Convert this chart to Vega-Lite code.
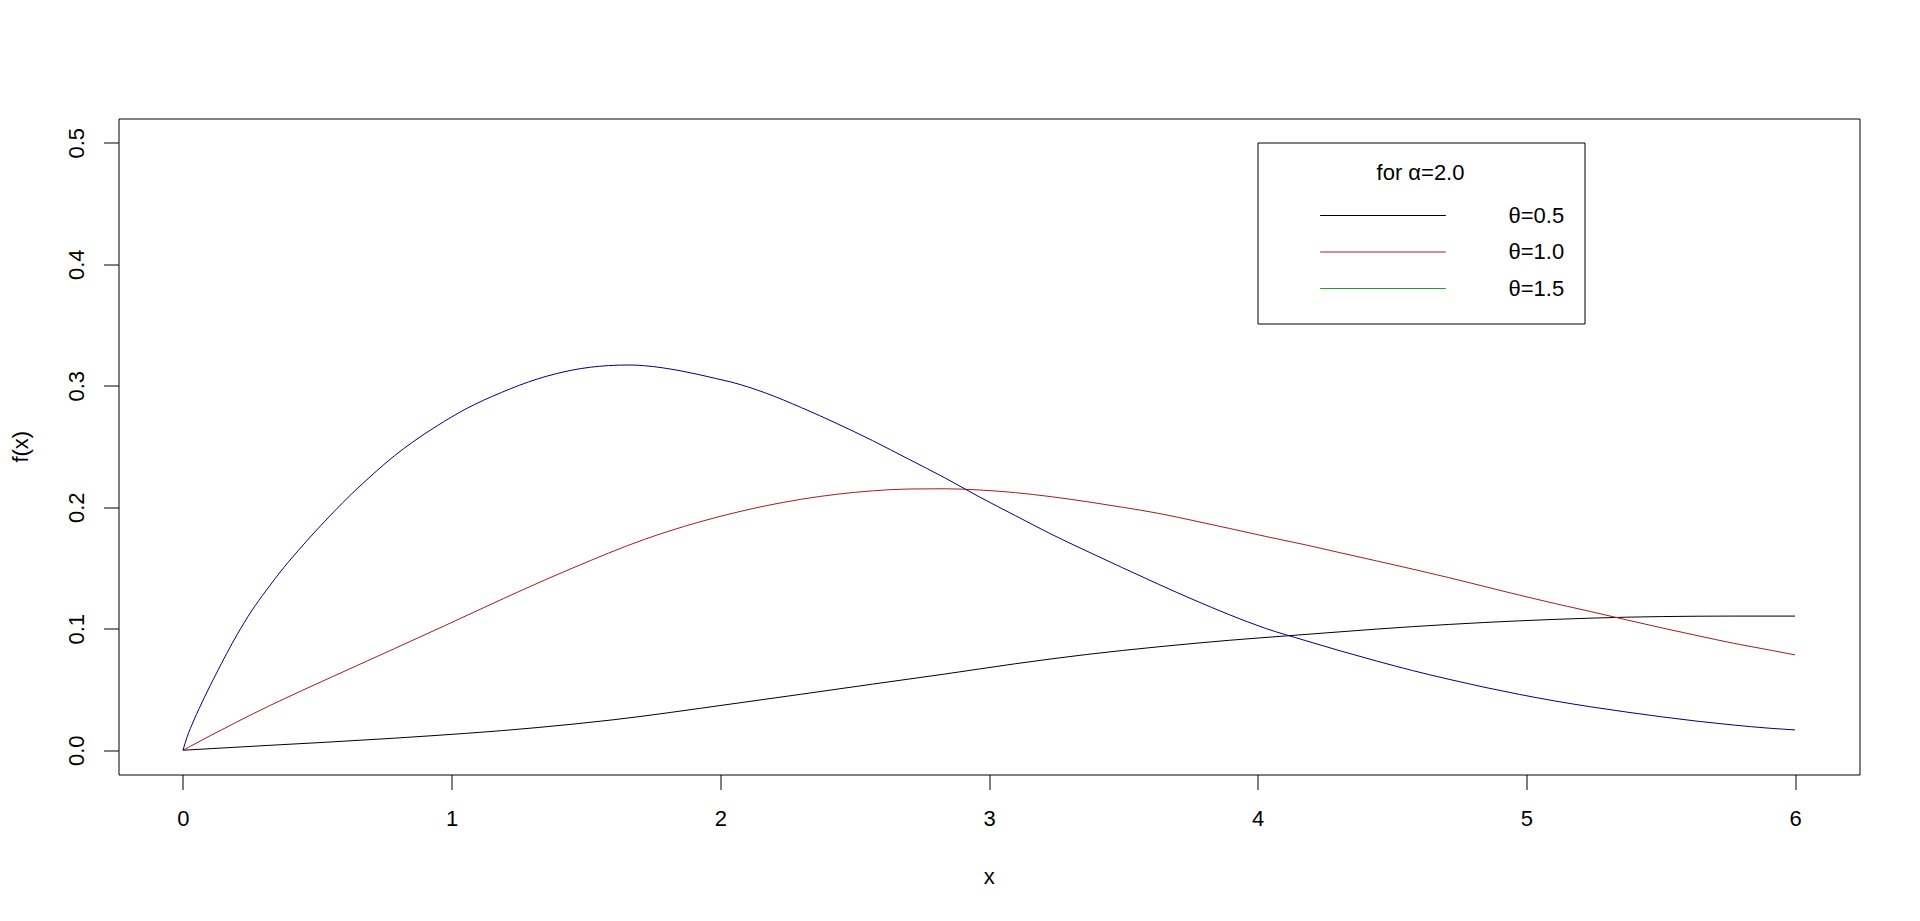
{
  "$schema": "https://vega.github.io/schema/vega-lite/v6.json",
  "width": 1741,
  "height": 656,
  "autosize": {"type": "none"},
  "padding": {"left": 118.5, "top": 118.5, "right": 60, "bottom": 146},
  "background": "white",
  "config": {
    "font": "Liberation Sans",
    "view": {"stroke": "black", "strokeWidth": 1},
    "axis": {
      "grid": false,
      "domain": false,
      "tickColor": "black",
      "tickWidth": 1,
      "tickSize": 15,
      "labelColor": "black",
      "titleColor": "black",
      "labelFont": "Liberation Sans",
      "titleFont": "Liberation Sans",
      "labelFontSize": 22,
      "titleFontSize": 22,
      "titleFontWeight": "normal",
      "labelFlush": false,
      "labelOverlap": false,
      "labelBound": false
    }
  },
  "data": {
    "values": [
      {"series": "θ=0.5", "x": 0, "y": 0},
      {"series": "θ=0.5", "x": 0.281, "y": 0.0035},
      {"series": "θ=0.5", "x": 0.787, "y": 0.0099},
      {"series": "θ=0.5", "x": 1.318, "y": 0.0186},
      {"series": "θ=0.5", "x": 1.6, "y": 0.025},
      {"series": "θ=0.5", "x": 2.036, "y": 0.0379},
      {"series": "θ=0.5", "x": 2.302, "y": 0.0461},
      {"series": "θ=0.5", "x": 2.567, "y": 0.0544},
      {"series": "θ=0.5", "x": 2.833, "y": 0.0626},
      {"series": "θ=0.5", "x": 3.099, "y": 0.0712},
      {"series": "θ=0.5", "x": 3.364, "y": 0.0788},
      {"series": "θ=0.5", "x": 3.63, "y": 0.0851},
      {"series": "θ=0.5", "x": 3.896, "y": 0.0905},
      {"series": "θ=0.5", "x": 4.119, "y": 0.0943},
      {"series": "θ=0.5", "x": 4.31, "y": 0.0975},
      {"series": "θ=0.5", "x": 4.443, "y": 0.0997},
      {"series": "θ=0.5", "x": 4.576, "y": 0.1017},
      {"series": "θ=0.5", "x": 4.709, "y": 0.1035},
      {"series": "θ=0.5", "x": 4.842, "y": 0.1051},
      {"series": "θ=0.5", "x": 4.975, "y": 0.1065},
      {"series": "θ=0.5", "x": 5.107, "y": 0.1077},
      {"series": "θ=0.5", "x": 5.24, "y": 0.1087},
      {"series": "θ=0.5", "x": 5.373, "y": 0.1095},
      {"series": "θ=0.5", "x": 5.506, "y": 0.11},
      {"series": "θ=0.5", "x": 5.639, "y": 0.1103},
      {"series": "θ=0.5", "x": 5.772, "y": 0.1104},
      {"series": "θ=0.5", "x": 6.0, "y": 0.1104},

      {"series": "θ=1.0", "x": 0, "y": 0},
      {"series": "θ=1.0", "x": 0.2, "y": 0.0232},
      {"series": "θ=1.0", "x": 0.322, "y": 0.0366},
      {"series": "θ=1.0", "x": 0.561, "y": 0.0610},
      {"series": "θ=1.0", "x": 0.787, "y": 0.0836},
      {"series": "θ=1.0", "x": 0.973, "y": 0.1024},
      {"series": "θ=1.0", "x": 1.119, "y": 0.1173},
      {"series": "θ=1.0", "x": 1.265, "y": 0.1321},
      {"series": "θ=1.0", "x": 1.451, "y": 0.1500},
      {"series": "θ=1.0", "x": 1.717, "y": 0.1735},
      {"series": "θ=1.0", "x": 1.916, "y": 0.1875},
      {"series": "θ=1.0", "x": 2.073, "y": 0.1965},
      {"series": "θ=1.0", "x": 2.169, "y": 0.2012},
      {"series": "θ=1.0", "x": 2.302, "y": 0.2066},
      {"series": "θ=1.0", "x": 2.434, "y": 0.2107},
      {"series": "θ=1.0", "x": 2.567, "y": 0.2135},
      {"series": "θ=1.0", "x": 2.7, "y": 0.215},
      {"series": "θ=1.0", "x": 2.833, "y": 0.2152},
      {"series": "θ=1.0", "x": 2.966, "y": 0.2142},
      {"series": "θ=1.0", "x": 3.099, "y": 0.212},
      {"series": "θ=1.0", "x": 3.231, "y": 0.2087},
      {"series": "θ=1.0", "x": 3.364, "y": 0.2046},
      {"series": "θ=1.0", "x": 3.497, "y": 0.2},
      {"series": "θ=1.0", "x": 3.63, "y": 0.195},
      {"series": "θ=1.0", "x": 3.763, "y": 0.1889},
      {"series": "θ=1.0", "x": 3.896, "y": 0.1825},
      {"series": "θ=1.0", "x": 4.029, "y": 0.176},
      {"series": "θ=1.0", "x": 4.177, "y": 0.1691},
      {"series": "θ=1.0", "x": 4.31, "y": 0.1624},
      {"series": "θ=1.0", "x": 4.443, "y": 0.1558},
      {"series": "θ=1.0", "x": 4.576, "y": 0.1491},
      {"series": "θ=1.0", "x": 4.709, "y": 0.1422},
      {"series": "θ=1.0", "x": 4.842, "y": 0.1349},
      {"series": "θ=1.0", "x": 4.975, "y": 0.1276},
      {"series": "θ=1.0", "x": 5.107, "y": 0.1207},
      {"series": "θ=1.0", "x": 5.24, "y": 0.1141},
      {"series": "θ=1.0", "x": 5.373, "y": 0.1073},
      {"series": "θ=1.0", "x": 5.506, "y": 0.1006},
      {"series": "θ=1.0", "x": 5.639, "y": 0.0942},
      {"series": "θ=1.0", "x": 5.772, "y": 0.088},
      {"series": "θ=1.0", "x": 5.904, "y": 0.0825},
      {"series": "θ=1.0", "x": 6.0, "y": 0.0785},

      {"series": "θ=1.5", "x": 0, "y": 0},
      {"series": "θ=1.5", "x": 0.015, "y": 0.0107},
      {"series": "θ=1.5", "x": 0.0395, "y": 0.0241},
      {"series": "θ=1.5", "x": 0.08, "y": 0.0436},
      {"series": "θ=1.5", "x": 0.1228, "y": 0.0626},
      {"series": "θ=1.5", "x": 0.2024, "y": 0.0955},
      {"series": "θ=1.5", "x": 0.2556, "y": 0.1147},
      {"series": "θ=1.5", "x": 0.3088, "y": 0.1312},
      {"series": "θ=1.5", "x": 0.3753, "y": 0.1504},
      {"series": "θ=1.5", "x": 0.4285, "y": 0.1642},
      {"series": "θ=1.5", "x": 0.4947, "y": 0.1806},
      {"series": "θ=1.5", "x": 0.5613, "y": 0.1962},
      {"series": "θ=1.5", "x": 0.6275, "y": 0.2109},
      {"series": "θ=1.5", "x": 0.7075, "y": 0.2273},
      {"series": "θ=1.5", "x": 0.7871, "y": 0.2424},
      {"series": "θ=1.5", "x": 0.8534, "y": 0.2534},
      {"series": "θ=1.5", "x": 0.9464, "y": 0.2671},
      {"series": "θ=1.5", "x": 1.0527, "y": 0.2809},
      {"series": "θ=1.5", "x": 1.1856, "y": 0.2945},
      {"series": "θ=1.5", "x": 1.3183, "y": 0.3055},
      {"series": "θ=1.5", "x": 1.4515, "y": 0.313},
      {"series": "θ=1.5", "x": 1.584, "y": 0.3166},
      {"series": "θ=1.5", "x": 1.664, "y": 0.3171},
      {"series": "θ=1.5", "x": 1.717, "y": 0.3165},
      {"series": "θ=1.5", "x": 1.85, "y": 0.3124},
      {"series": "θ=1.5", "x": 1.983, "y": 0.306},
      {"series": "θ=1.5", "x": 2.036, "y": 0.3033},
      {"series": "θ=1.5", "x": 2.169, "y": 0.294},
      {"series": "θ=1.5", "x": 2.302, "y": 0.282},
      {"series": "θ=1.5", "x": 2.434, "y": 0.2689},
      {"series": "θ=1.5", "x": 2.567, "y": 0.2548},
      {"series": "θ=1.5", "x": 2.7, "y": 0.2397},
      {"series": "θ=1.5", "x": 2.833, "y": 0.2245},
      {"series": "θ=1.5", "x": 2.966, "y": 0.2083},
      {"series": "θ=1.5", "x": 3.099, "y": 0.193},
      {"series": "θ=1.5", "x": 3.231, "y": 0.1779},
      {"series": "θ=1.5", "x": 3.364, "y": 0.1639},
      {"series": "θ=1.5", "x": 3.497, "y": 0.1502},
      {"series": "θ=1.5", "x": 3.63, "y": 0.1367},
      {"series": "θ=1.5", "x": 3.763, "y": 0.1237},
      {"series": "θ=1.5", "x": 3.896, "y": 0.1114},
      {"series": "θ=1.5", "x": 4.029, "y": 0.1003},
      {"series": "θ=1.5", "x": 4.177, "y": 0.0903},
      {"series": "θ=1.5", "x": 4.31, "y": 0.0816},
      {"series": "θ=1.5", "x": 4.443, "y": 0.0734},
      {"series": "θ=1.5", "x": 4.576, "y": 0.0656},
      {"series": "θ=1.5", "x": 4.709, "y": 0.0585},
      {"series": "θ=1.5", "x": 4.842, "y": 0.0519},
      {"series": "θ=1.5", "x": 4.975, "y": 0.0459},
      {"series": "θ=1.5", "x": 5.107, "y": 0.0405},
      {"series": "θ=1.5", "x": 5.24, "y": 0.0357},
      {"series": "θ=1.5", "x": 5.373, "y": 0.0314},
      {"series": "θ=1.5", "x": 5.506, "y": 0.0274},
      {"series": "θ=1.5", "x": 5.639, "y": 0.0238},
      {"series": "θ=1.5", "x": 5.772, "y": 0.0207},
      {"series": "θ=1.5", "x": 5.904, "y": 0.0181},
      {"series": "θ=1.5", "x": 6.0, "y": 0.0167}
    ]
  },
  "encoding": {
    "x": {
      "field": "x",
      "type": "quantitative",
      "scale": {"domain": [-0.24, 6.24], "nice": false, "zero": false},
      "axis": {
        "values": [0, 1, 2, 3, 4, 5, 6],
        "format": "d",
        "title": "x",
        "tickSize": 15,
        "labelPadding": 36,
        "labelBaseline": "alphabetic",
        "titleX": 870.2,
        "titleY": 108.8,
        "titleAlign": "center",
        "titleBaseline": "alphabetic"
      }
    },
    "y": {
      "field": "y",
      "type": "quantitative",
      "scale": {"domain": [-0.02, 0.52], "nice": false, "zero": false},
      "axis": {
        "values": [0, 0.1, 0.2, 0.3, 0.4, 0.5],
        "format": ".1f",
        "title": "f(x)",
        "tickSize": 15,
        "labelAngle": 270,
        "labelAlign": "center",
        "labelBaseline": "alphabetic",
        "labelPadding": 20,
        "titleAngle": 270,
        "titleX": -91.5,
        "titleY": 327.7,
        "titleAlign": "center",
        "titleBaseline": "alphabetic"
      }
    }
  },
  "layer": [
    {
      "mark": {"type": "line", "strokeWidth": 1, "opacity": 0},
      "encoding": {
        "color": {
          "field": "series",
          "type": "nominal",
          "scale": {"domain": ["θ=0.5", "θ=1.0", "θ=1.5"], "range": ["#000000", "#A51C1C", "#22A022"]},
          "legend": {
            "title": "for α=2.0",
            "orient": "none",
            "legendX": 1139,
            "legendY": 24,
            "strokeColor": "black",
            "fillColor": "white",
            "padding": 20,
            "symbolType": "stroke",
            "symbolSize": 15800,
            "symbolStrokeWidth": 1,
            "symbolOpacity": 1,
            "symbolOffset": 42,
            "labelOffset": 62,
            "clipHeight": 30,
            "rowPadding": 6.5,
            "titlePadding": 16,
            "titleFont": "Liberation Sans",
            "labelFont": "Liberation Sans",
            "titleFontSize": 22,
            "titleFontWeight": "normal",
            "titleColor": "black",
            "labelFontSize": 22,
            "labelColor": "black",
            "titleLimit": 2000,
            "labelLimit": 500,
            "titleAnchor": "middle",
            "titleAlign": "center"
          }
        }
      }
    },
    {
      "mark": {"type": "line", "strokeWidth": 1, "interpolate": "monotone"},
      "encoding": {
        "stroke": {
          "field": "series",
          "type": "nominal",
          "scale": {"domain": ["θ=0.5", "θ=1.0", "θ=1.5"], "range": ["#000000", "#A51C1C", "#000080"]},
          "legend": null
        }
      }
    }
  ]
}
